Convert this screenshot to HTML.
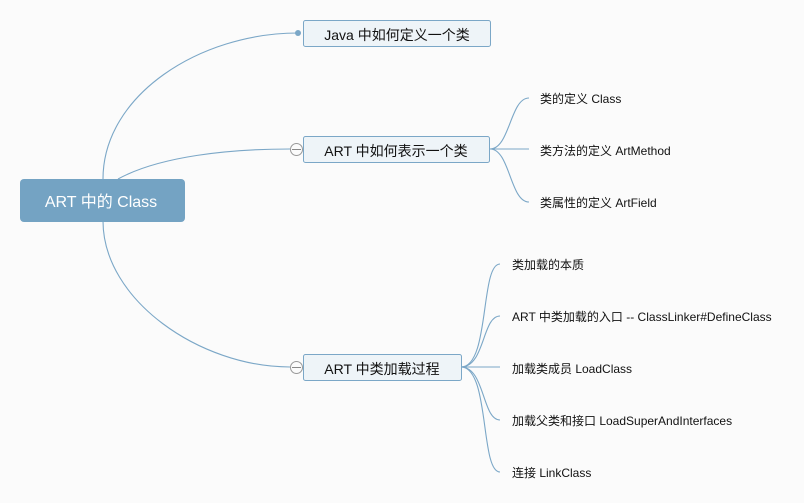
<!DOCTYPE html>
<html><head><meta charset="utf-8"><style>
html,body{margin:0;padding:0;background:#fbfbfb;}
svg{display:block;font-family:"Liberation Sans","Noto Sans CJK SC",sans-serif;}
</style></head><body>
<svg width="804" height="503" viewBox="0 0 804 503" xmlns="http://www.w3.org/2000/svg">
<rect width="804" height="503" fill="#fbfbfb"/>
<g fill="none" stroke="#7ba7c7" stroke-width="1.1">
<path d="M103,179 C103,95 200,33 298,33"/>
<path d="M118,179 C160,156 230,149 290,149"/>
<path d="M103,221 C103,300 200,367 290,367"/>
<path d="M490,149 C510,149 510,98 529,98"/>
<path d="M490,149 L529,149"/>
<path d="M490,149 C510,149 510,202 529,202"/>
<path d="M461,367 C490,367 480,264 500,264"/>
<path d="M461,367 C485,367 482,316 500,316"/>
<path d="M461,367 L500,367"/>
<path d="M461,367 C485,367 482,420 500,420"/>
<path d="M461,367 C490,367 480,472 500,472"/>
</g>
<circle cx="298" cy="33" r="3" fill="#7ba7c7"/>
<g fill="#fbfbfb" stroke="#999" stroke-width="1">
<circle cx="296.5" cy="149.5" r="6"/>
<circle cx="296.5" cy="367.5" r="6"/>
</g>
<g stroke="#888" stroke-width="1"><path d="M292,149.5h9M292,367.5h9"/></g>
<rect x="20" y="179" width="165" height="43" rx="4" fill="#74a3c3"/>
<text x="101" y="207" text-anchor="middle" font-size="16" fill="#fff">ART 中的 Class</text>
<g fill="#eef4f8" stroke="#7ba7c7" stroke-width="1">
<rect x="303.5" y="20.5" width="187" height="26" rx="2"/>
<rect x="303.5" y="136.5" width="186" height="26" rx="2"/>
<rect x="303.5" y="354.5" width="158" height="26" rx="2"/>
</g>
<g font-size="14" fill="#111" text-anchor="middle">
<text x="397" y="40">Java 中如何定义一个类</text>
<text x="396" y="156">ART 中如何表示一个类</text>
<text x="382" y="374">ART 中类加载过程</text>
</g>
<g font-size="12" fill="#111">
<text x="540" y="103">类的定义 Class</text>
<text x="540" y="155">类方法的定义 ArtMethod</text>
<text x="540" y="207">类属性的定义 ArtField</text>
<text x="512" y="269">类加载的本质</text>
<text x="512" y="321">ART 中类加载的入口 -- ClassLinker#DefineClass</text>
<text x="512" y="373">加载类成员 LoadClass</text>
<text x="512" y="425">加载父类和接口 LoadSuperAndInterfaces</text>
<text x="512" y="477">连接 LinkClass</text>
</g>
</svg>
</body></html>
